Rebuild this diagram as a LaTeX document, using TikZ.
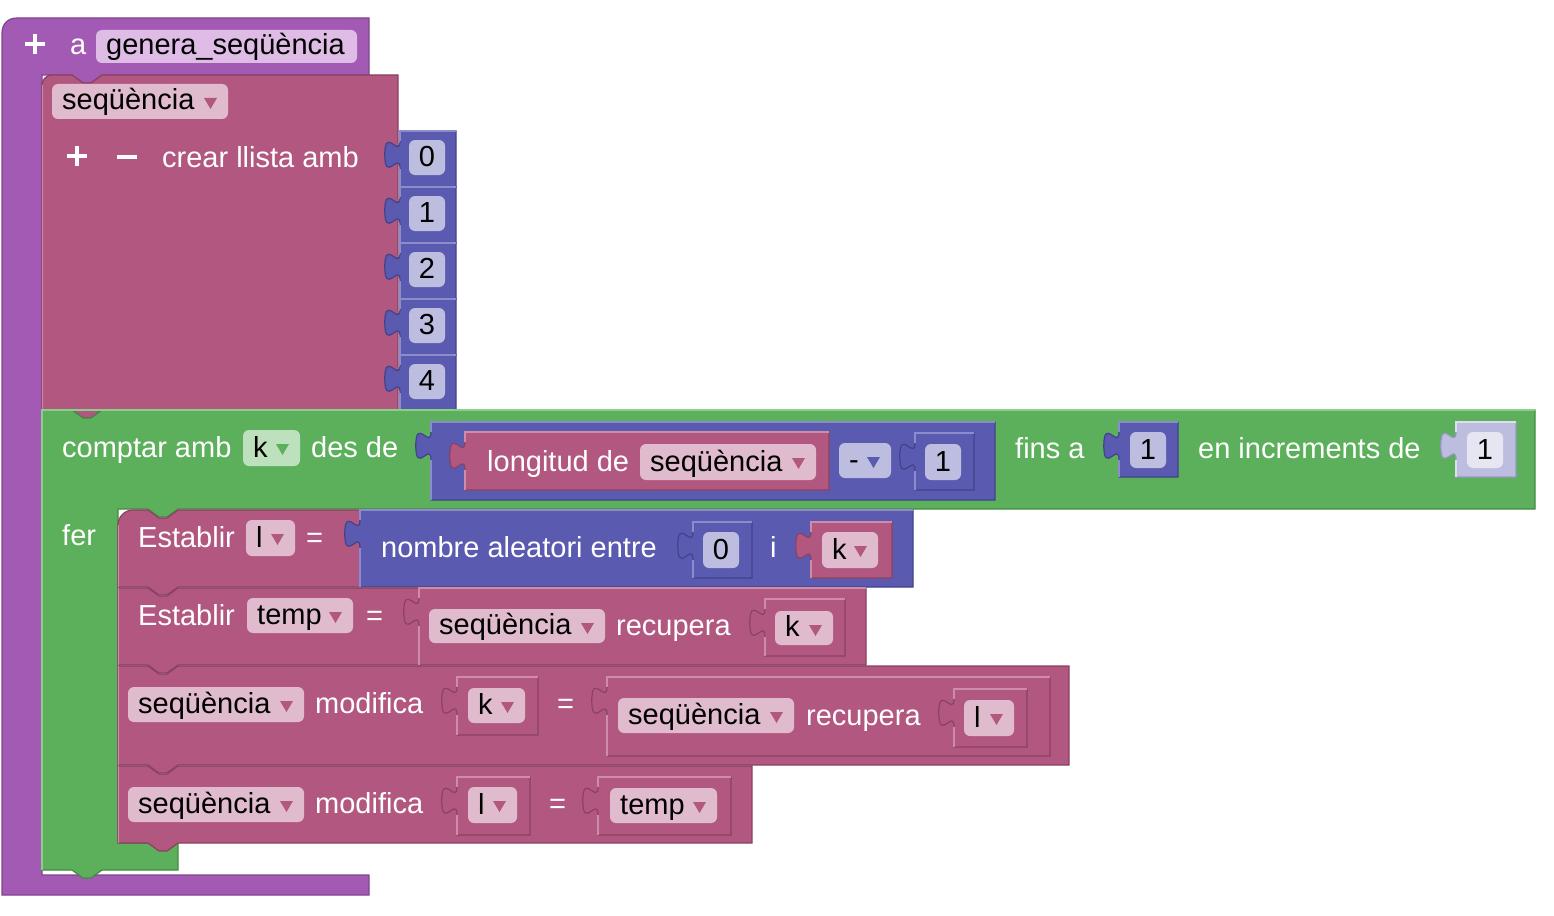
\documentclass[tikz,border=0pt]{standalone}
\usepackage{fontspec}
\setmainfont{Liberation Sans}
\definecolor{pu}{RGB}{163,90,180}
\definecolor{pudk}{RGB}{128,68,142}
\definecolor{pult}{RGB}{195,140,208}
\definecolor{pufd}{RGB}{222,188,230}
\definecolor{pk}{RGB}{178,88,128}
\definecolor{pkdk}{RGB}{138,66,98}
\definecolor{pklt}{RGB}{205,140,170}
\definecolor{pkfd}{RGB}{224,187,205}
\definecolor{bl}{RGB}{90,90,176}
\definecolor{bldk}{RGB}{66,66,138}
\definecolor{bllt}{RGB}{140,140,205}
\definecolor{blfd}{RGB}{189,189,224}
\definecolor{gr}{RGB}{92,176,92}
\definecolor{grdk}{RGB}{68,138,68}
\definecolor{grlt}{RGB}{140,205,140}
\definecolor{grfd}{RGB}{189,224,189}
\definecolor{lb}{RGB}{189,189,224}
\definecolor{lbdk}{RGB}{150,150,192}
\definecolor{lblt}{RGB}{222,222,240}
\definecolor{lbfd}{RGB}{230,230,243}
\newcommand\blkfont{\fontsize{29}{34}\selectfont}
\tikzset{
  lbl/.style={anchor=base west, inner sep=0pt, text=white, font=\blkfont},
  ftxt/.style={anchor=base west, inner sep=0pt, text=black, font=\blkfont},
  icon/.style={white, line width=4.5pt},
}
% value block with left tab: x1 y1 x2 y2 colour
\newcommand\vblk[5]{%
  \filldraw[fill=#5, draw=#5dk, line width=1.2pt] (#1,#2) -- (#3,#2) -- (#3,#4) -- (#1,#4) -- (#1,#2+38) .. controls (#1,#2+19) and (#1-15.2,#2+53.2) .. (#1-15.2,#2+23.75) .. controls (#1-15.2,#2-5.7) and (#1,#2+28.5) .. (#1,#2+9.5) -- cycle;
  \draw[#5lt, line width=1.2pt] (#1,#4) -- (#1,#2+38) (#1,#2+9.5) -- (#1,#2) -- (#3,#2);
}
% statement block: L T R B radius
\newcommand\stmt[5]{%
  \filldraw[fill=pk, draw=pkdk, line width=1.2pt] (#1,#4) -- (#1,#2+#5) .. controls (#1,#2+0.45*#5) and (#1+0.45*#5,#2) .. (#1+#5,#2) -- (#1+30,#2) -- (#1+41,#2+8) -- (#1+49,#2+8) -- (#1+60,#2) -- (#3,#2) -- (#3,#4) -- (#1+60,#4) -- (#1+49,#4+8) -- (#1+41,#4+8) -- (#1+30,#4) -- cycle;
  \draw[pklt, line width=1.2pt] (#1+0.5,#4) -- (#1+0.5,#2+#5);
}
% dropdown field: name x1 y1 x2 y2 text colour
\newcommand\dfld[7]{%
  \fill[#7fd, rounded corners=6pt] (#2,#3) rectangle (#4,#5);
  \node[ftxt] (#1) at (#2+10,#5-9) {#6};
  \fill[#7] (#4-24,#3+14) -- (#4-11,#3+14) -- (#4-17.5,#3+25) -- cycle;
}
% number field: name x1 y1 x2 y2 text fillcolour
\newcommand\nfld[7]{%
  \fill[#7, rounded corners=6pt] (#2,#3) rectangle (#4,#5);
  \node[ftxt, anchor=base] (#1) at ({(#2+#4)/2},#5-9) {#6};
}
\begin{document}
\begin{tikzpicture}[x=1pt,y=-1pt]
\useasboundingbox (0,0) rectangle (1554,915);
\fill[white] (0,0) rectangle (1554,915);

% procedure block
\filldraw[fill=pu, draw=pudk, line width=1.2pt] (2,895) -- (2,33) .. controls (2,24) and (8,18) .. (17,18) -- (369,18) -- (369,75) -- (102,75) -- (91,83) -- (83,83) -- (72,75) -- (42,75) -- (42,875) -- (369,875) -- (369,895) -- cycle;
\draw[icon] (25,44) -- (45,44) (35,34) -- (35,54);
\node[lbl] (a) at (70,55) {a};
\fill[pufd, rounded corners=6pt] (96,30) rectangle (357,63);
\node[ftxt] (fname) at (106,55) {genera\_seqüència};

% set sequence / create list
\stmt{42}{75}{398}{410}{10}
\dfld{seq0}{52}{84}{228}{119}{seqüència}{pk}
\draw[icon] (67,156) -- (87,156) (77,146) -- (77,166) (117,157) -- (137,157);
\node[lbl] (crear) at (162,167) {crear llista amb};
\foreach \i in {0,...,4}{
  \vblk{400}{131+56*\i}{456}{187+56*\i}{bl}
  \nfld{n\i}{409}{140+56*\i}{445}{175+56*\i}{\i}{blfd}
}

% for loop
\filldraw[fill=gr, draw=grdk, line width=1.2pt] (42,870) -- (42,410) -- (72,410) -- (83,418) -- (91,418) -- (102,410) -- (1535,410) -- (1535,509) -- (178,509) -- (167,517) -- (159,517) -- (148,509) -- (118,509) -- (118,843) -- (178,843) -- (178,870) -- (102,870) -- (91,878) -- (83,878) -- (72,870) -- cycle;
\draw[grlt, line width=1.2pt] (42,870) -- (42,410) -- (1535,410);
\node[lbl] (comptar) at (62,457) {comptar amb};
\dfld{kfor}{243}{430}{300}{466}{k}{gr}
\node[lbl] (desde) at (311,457) {des de};
\vblk{431}{422}{995}{500}{bl}
\vblk{465}{432}{829}{490}{pk}
\node[lbl] (longitud) at (487,471) {longitud de};
\dfld{seq1}{640}{444}{816}{480}{seqüència}{pk}
\dfld{minus}{839}{443}{891}{478}{-}{bl}
\vblk{915}{433}{974}{490}{bl}
\nfld{one1}{925}{444}{961}{480}{1}{blfd}
\node[lbl] (fins) at (1015,458) {fins a};
\vblk{1119}{422}{1178}{477}{bl}
\nfld{one2}{1130}{432}{1166}{468}{1}{blfd}
\node[lbl] (incr) at (1198,458) {en increments de};
\vblk{1456}{422}{1516}{477}{lb}
\nfld{one3}{1467}{432}{1503}{468}{1}{lbfd}
\node[lbl] (fer) at (62,545) {fer};

% statement 1
\stmt{118}{510}{360}{587}{15}
\node[lbl] (est1) at (138,547) {Establir};
\dfld{l1}{246}{520}{295}{556}{l}{pk}
\node[lbl] (eq1) at (306,547) {=};
\vblk{360}{510}{913}{587}{bl}
\node[lbl] (nombre) at (381,557) {nombre aleatori entre};
\vblk{693}{522}{752}{578}{bl}
\nfld{zero}{703}{532}{739}{568}{0}{blfd}
\node[lbl] (i) at (770,557) {i};
\vblk{811}{522}{892}{578}{pk}
\dfld{k1}{822}{532}{878}{568}{k}{pk}

% statement 2
\stmt{118}{588}{420}{665}{0}
\node[lbl] (est2) at (138,625) {Establir};
\dfld{temp1}{247}{598}{353}{633}{temp}{pk}
\node[lbl] (eq2) at (366,625) {=};
\vblk{419}{588}{866}{665}{pk}
\dfld{seq2}{429}{609}{605}{643}{seqüència}{pk}
\node[lbl] (rec1) at (616,635) {recupera};
\vblk{765}{599}{845}{656}{pk}
\dfld{k2}{775}{611}{833}{645}{k}{pk}

% statement 3
\stmt{118}{666}{1069}{765}{0}
\dfld{seq3}{128}{687}{304}{722}{seqüència}{pk}
\node[lbl] (mod1) at (315,713) {modifica};
\vblk{457}{677}{538}{735}{pk}
\dfld{k3}{468}{688}{525}{723}{k}{pk}
\node[lbl] (eq3) at (557,713) {=};
\vblk{607}{677}{1050}{756}{pk}
\dfld{seq4}{618}{698}{794}{733}{seqüència}{pk}
\node[lbl] (rec2) at (806,725) {recupera};
\vblk{954}{689}{1027}{747}{pk}
\dfld{l3}{964}{700}{1014}{736}{l}{pk}

% statement 4
\stmt{118}{766}{752}{843}{0}
\dfld{seq5}{128}{787}{304}{822}{seqüència}{pk}
\node[lbl] (mod2) at (315,813) {modifica};
\vblk{457}{777}{530}{835}{pk}
\dfld{l4}{468}{787}{517}{823}{l}{pk}
\node[lbl] (eq4) at (549,813) {=};
\vblk{598}{777}{731}{835}{pk}
\dfld{temp2}{610}{788}{717}{823}{temp}{pk}
\end{tikzpicture}
\end{document}
